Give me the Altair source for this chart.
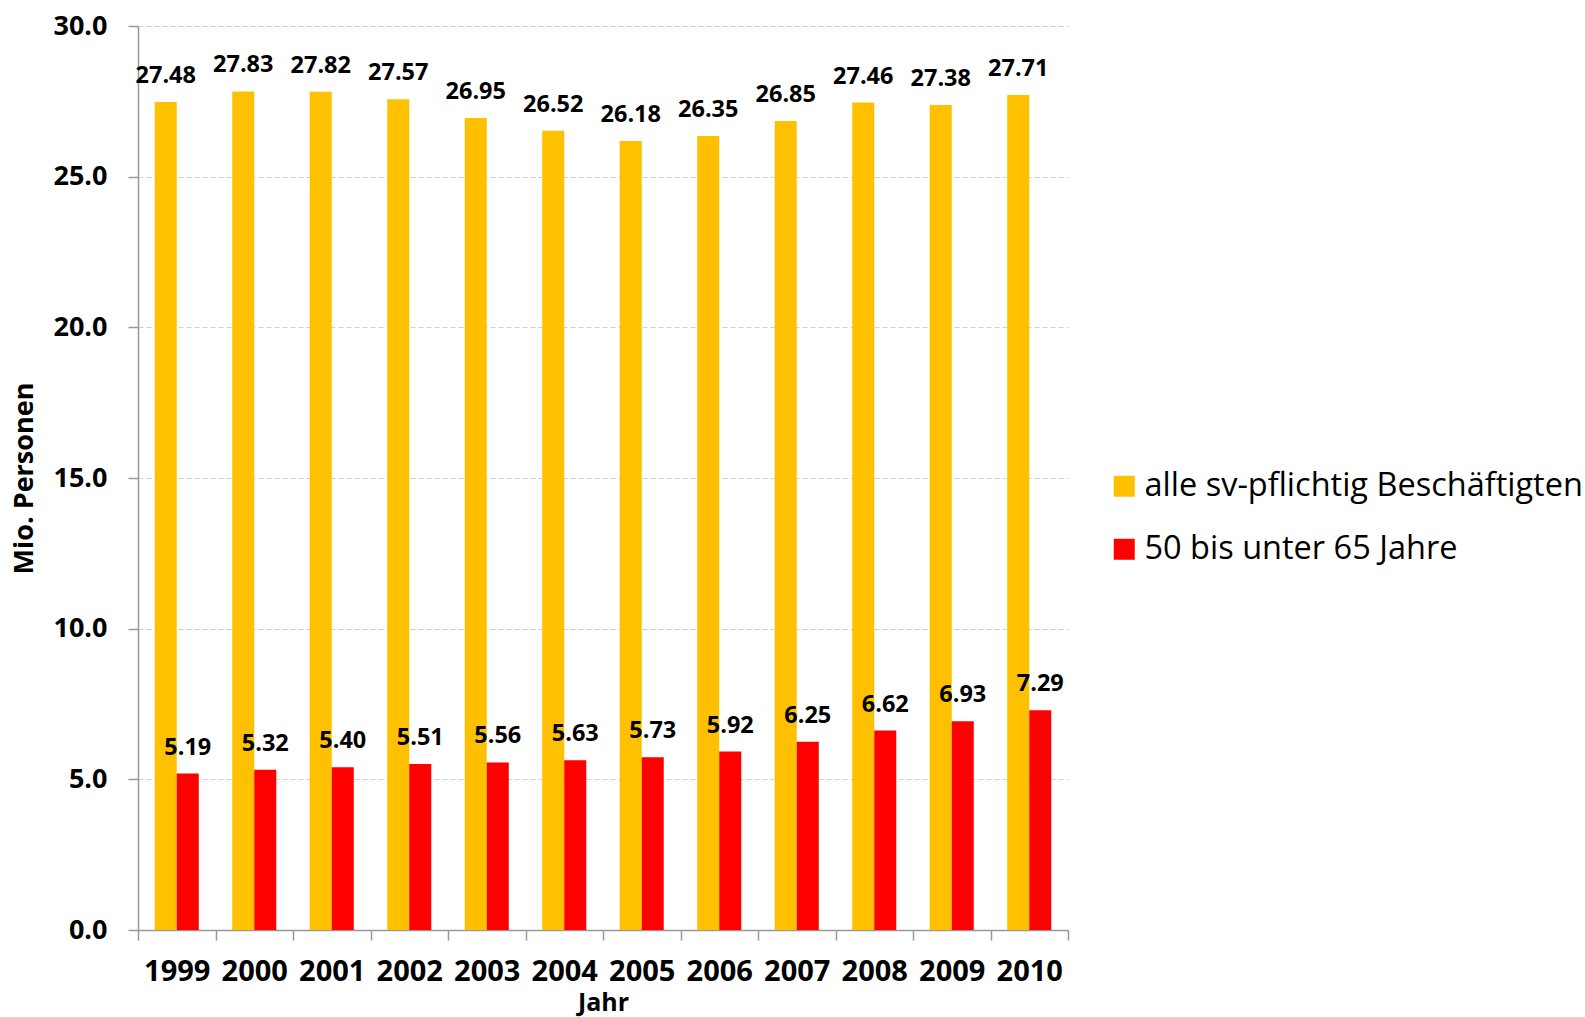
import altair as alt
import pandas as pd

# Sozialversicherungspflichtig Beschäftigte in Mio., 1999-2010
years = ["1999", "2000", "2001", "2002", "2003", "2004",
         "2005", "2006", "2007", "2008", "2009", "2010"]
alle = [27.48, 27.83, 27.82, 27.57, 26.95, 26.52,
        26.18, 26.35, 26.85, 27.46, 27.38, 27.71]
aeltere = [5.19, 5.32, 5.40, 5.51, 5.56, 5.63,
           5.73, 5.92, 6.25, 6.62, 6.93, 7.29]
series_names = ["alle sv-pflichtig Beschäftigten", "50 bis unter 65 Jahre"]
series_colors = ["#FFC000", "#FF0000"]
y_ticks = [0, 5, 10, 15, 20, 25, 30]

rows = []
for i, yr in enumerate(years):
    rows.append({"Jahr": yr, "Gruppe": series_names[0], "Wert": alle[i]})
    rows.append({"Jahr": yr, "Gruppe": series_names[1], "Wert": aeltere[i]})
df = pd.DataFrame(rows)

FONT = "Open Sans"
AXIS_GREY = "#999999"

x_enc = alt.X(
    "Jahr:N",
    sort=years,
    scale=alt.Scale(paddingInner=0, paddingOuter=0),
    axis=alt.Axis(
        title="Jahr",
        labelAngle=0,
        tickBand="extent",
        grid=False,
        domainColor=AXIS_GREY,
        domainWidth=1.5,
        tickColor=AXIS_GREY,
        tickWidth=1.5,
        tickSize=10,
        labelFont=FONT,
        labelFontSize=29,
        labelFontWeight="bold",
        labelColor="black",
        labelBaseline="alphabetic",
        labelPadding=40,
        titleFont=FONT,
        titleFontSize=25,
        titleFontWeight="bold",
        titleColor="black",
        titleBaseline="alphabetic",
        titleX=465,
        titleY=80,
    ),
)
xoff_enc = alt.XOffset(
    "Gruppe:N",
    sort=series_names,
    scale=alt.Scale(paddingInner=0, paddingOuter=0.76),
)
y_enc = alt.Y(
    "Wert:Q",
    scale=alt.Scale(domain=[0, 30], nice=False),
    axis=alt.Axis(
        title="Mio. Personen",
        values=y_ticks,
        format=".1f",
        grid=True,
        gridColor="#d0d0d0",
        gridDash=[5, 3],
        gridWidth=1,
        domainColor=AXIS_GREY,
        domainWidth=1.5,
        tickColor=AXIS_GREY,
        tickWidth=1.5,
        tickSize=10,
        labelFont=FONT,
        labelFontSize=27,
        labelFontWeight="bold",
        labelColor="black",
        labelPadding=21,
        titleFont=FONT,
        titleFontSize=27,
        titleFontWeight="bold",
        titleColor="black",
        titleAngle=270,
        titleAlign="center",
        titleBaseline="middle",
        titleX=-114,
        titleY=452,
    ),
)
color_enc = alt.Color(
    "Gruppe:N",
    sort=series_names,
    scale=alt.Scale(domain=series_names, range=series_colors),
    legend=alt.Legend(
        title=None,
        orient="none",
        legendX=970,
        legendY=444,
        symbolType="square",
        symbolSize=441,
        symbolStrokeWidth=0,
        labelFont=FONT,
        labelFontSize=32.5,
        labelColor="black",
        labelOffset=4,
        labelLimit=600,
        rowPadding=30,
    ),
)

bars = alt.Chart(df).mark_bar().encode(
    x=x_enc, xOffset=xoff_enc, y=y_enc, color=color_enc
)
labels = alt.Chart(df).mark_text(
    font=FONT, fontSize=23.5, fontWeight="bold", baseline="alphabetic",
    dy=-19, color="black",
).encode(
    x=x_enc, xOffset=xoff_enc, y=y_enc,
    text=alt.Text("Wert:Q", format=".2f"),
)

chart = alt.layer(bars, labels).properties(
    width=930,
    height=904,
    padding={"left": 138, "top": 26, "right": 517, "bottom": 87},
    autosize=alt.AutoSizeParams(type="none"),
).configure_view(stroke=None)

chart.save("out.html", embed_options={"renderer": "svg", "actions": False})
